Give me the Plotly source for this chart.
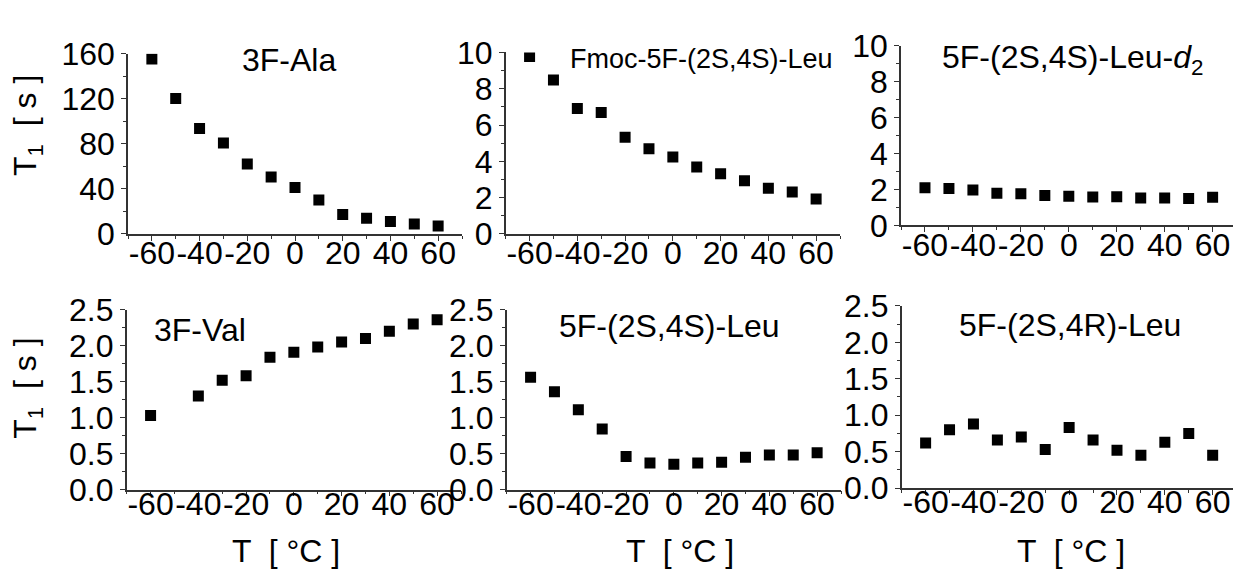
import plotly.graph_objects as go

W, H = 1233, 588

# ---- data ----
temps = [-60, -50, -40, -30, -20, -10, 0, 10, 20, 30, 40, 50, 60]
temps_val = [-60, -40, -30, -20, -10, 0, 10, 20, 30, 40, 50, 60]

t1_ala = [155.3, 120.2, 93.5, 80.7, 62.0, 50.6, 41.2, 30.0, 17.3, 13.9, 11.1, 8.9, 7.0]
t1_fmoc = [9.78, 8.48, 6.91, 6.69, 5.33, 4.69, 4.24, 3.69, 3.31, 2.93, 2.52, 2.31, 1.93]
t1_leu_d2 = [2.09, 2.05, 1.97, 1.79, 1.76, 1.67, 1.63, 1.58, 1.60, 1.53, 1.53, 1.50, 1.57]
t1_val = [1.03, 1.30, 1.52, 1.58, 1.84, 1.91, 1.98, 2.05, 2.10, 2.20, 2.30, 2.36]
t1_leu_ss = [1.56, 1.36, 1.11, 0.84, 0.46, 0.37, 0.35, 0.37, 0.38, 0.45, 0.48, 0.48, 0.51]
t1_leu_sr = [0.62, 0.80, 0.88, 0.66, 0.70, 0.53, 0.83, 0.66, 0.52, 0.45, 0.63, 0.75, 0.45]

x_tickvals = [-60, -40, -20, 0, 20, 40, 60]
x_ticktext = ["-60", "-40", "-20", "0", "20", "40", "60"]
y1_tickvals = [0, 40, 80, 120, 160]
y1_ticktext = ["0", "40", "80", "120", "160"]
y2_tickvals = [0, 2, 4, 6, 8, 10]
y2_ticktext = ["0", "2", "4", "6", "8", "10"]
yb_tickvals = [0, 0.5, 1.0, 1.5, 2.0, 2.5]
yb_ticktext = ["0.0", "0.5", "1.0", "1.5", "2.0", "2.5"]

titles = ["3F-Ala", "Fmoc-5F-(2S,4S)-Leu", "5F-(2S,4S)-Leu-<i>d</i><sub>2</sub>",
          "3F-Val", "5F-(2S,4S)-Leu", "5F-(2S,4R)-Leu"]

FONT = "Liberation Sans, Arial, sans-serif"

def fx(p):
    return p / W

def fy(p):
    return 1 - p / H

# panel geometry in pixels: (x0, x1, ytop, ybottom, xrange_max, x label standoff)
panels = [
    (128, 462, 38, 230, 70, -15),
    (505.7, 840, 36.7, 230, 70, -15),
    (901, 1233, 29.3, 221, 68.5, -15),
    (126.7, 461, 310.7, 502.3, 70, -20),
    (506.7, 841, 310.7, 502.3, 70, -20),
    (901.7, 1233, 306.7, 500.7, 68.5, -20),
]
series = [
    (temps, t1_ala, [0, 160], y1_tickvals, y1_ticktext, 20),
    (temps, t1_fmoc, [0, 10], y2_tickvals, y2_ticktext, 1),
    (temps, t1_leu_d2, [0, 10], y2_tickvals, y2_ticktext, 1),
    (temps_val, t1_val, [0, 2.5], yb_tickvals, yb_ticktext, 0.25),
    (temps, t1_leu_ss, [0, 2.5], yb_tickvals, yb_ticktext, 0.25),
    (temps, t1_leu_sr, [0, 2.5], yb_tickvals, yb_ticktext, 0.25),
]

fig = go.Figure()
layout = dict(
    width=W, height=H,
    margin=dict(l=0, r=0, t=0, b=0),
    paper_bgcolor="white", plot_bgcolor="white",
    showlegend=False,
    font=dict(family=FONT, color="black", size=32),
)

axis_common = dict(
    showline=True, linecolor="#333333", linewidth=1.5,
    showgrid=False, zeroline=False,
    ticks="outside", ticklen=5, tickwidth=1.2, tickcolor="#333333",
    tickfont=dict(family=FONT, size=32, color="black"),
)

for i, ((x0, x1, yt, yb, xmax, so), (xs, ys, yr, ytv, ytt, ymin)) in enumerate(zip(panels, series)):
    n = "" if i == 0 else str(i + 1)
    fig.add_trace(go.Scatter(
        x=xs, y=ys, mode="markers",
        marker=dict(symbol="square", size=11, color="black"),
        xaxis="x" + n, yaxis="y" + n,
    ))
    layout["xaxis" + n] = dict(
        axis_common,
        domain=[fx(x0), fx(x1)], anchor="y" + n,
        range=[-70, xmax], tickvals=x_tickvals, ticktext=x_ticktext,
        tickangle=0, ticklabelstandoff=so,
        minor=dict(dtick=10, tick0=0, ticks="outside", ticklen=3, tickcolor="#333333"),
    )
    layout["yaxis" + n] = dict(
        axis_common,
        domain=[fy(yb), fy(yt)], anchor="x" + n,
        range=yr, tickvals=ytv, ticktext=ytt,
        minor=dict(dtick=ymin, tick0=0, ticks="outside", ticklen=3, tickcolor="#333333"),
    )

annotations = []
# panel titles (pixel centres)
title_pos = [(288.5, 45, 32), (701, 44, 27), (1072, 44, 32),
             (200, 332, 32), (669, 328, 32), (1070, 326.5, 32)]
for t, (px, py, fs) in zip(titles, title_pos):
    annotations.append(dict(text=t, x=fx(px), y=fy(py), xref="paper", yref="paper",
                            xanchor="center", yanchor="middle", showarrow=False,
                            font=dict(family=FONT, size=fs, color="black")))
# y-axis titles
for py in (115, 395):
    annotations.append(dict(text="T<sub>1</sub>  [ s ]", x=fx(28), y=fy(py),
                            xref="paper", yref="paper", textangle=-90,
                            xanchor="center", yanchor="middle", showarrow=False,
                            font=dict(family=FONT, size=32, color="black")))
# x-axis titles
for px in (286, 680, 1071):
    annotations.append(dict(text="T  [ °C ]", x=fx(px), y=fy(568),
                            xref="paper", yref="paper",
                            xanchor="center", yanchor="middle", showarrow=False,
                            font=dict(family=FONT, size=32, color="black")))
layout["annotations"] = annotations

fig.update_layout(**layout)
fig.write_html("out.html")
